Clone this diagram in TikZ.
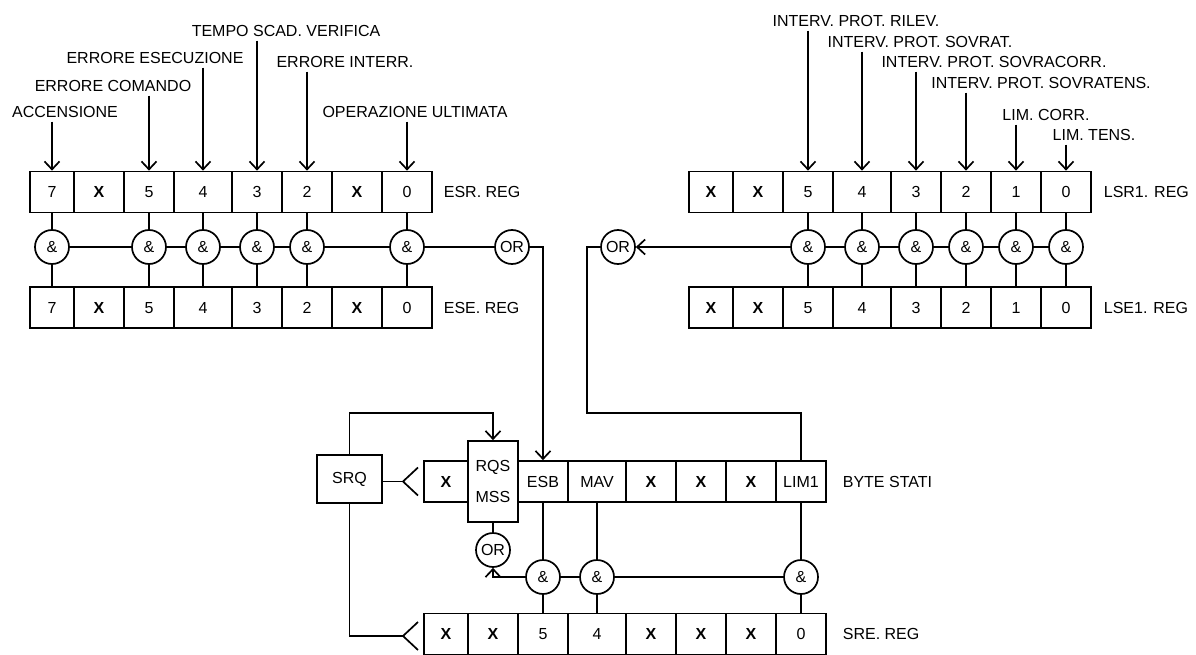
\documentclass[tikz,border=0pt]{standalone}
\usepackage{fontspec}
\setmainfont{Liberation Sans}
\usetikzlibrary{arrows.meta}

\begin{document}
\begin{tikzpicture}[x=1pt, y=-1pt, line width=1.7pt,
        font=\fontsize{16}{18}\selectfont,
        cell/.style={draw, minimum height=41pt, inner sep=0pt, text height=11.5pt, text depth=0pt},
        gate/.style={circle, draw, fill=white, minimum size=34pt, inner sep=0pt, text height=11.5pt, text depth=0pt},
        lab/.style={inner sep=3pt, text height=11.5pt, text depth=0pt},
        reg/.style={lab, anchor=west},
        arr/.style={-{Straight Barb[length=8pt,width=15pt]}}]
        \useasboundingbox (0,0) rectangle (1196,655);

        % ESR / ESE registers
        \foreach \b/\x/\w/\t in {7/0/44/7, 6/44/50/\textbf{X}, 5/94/50/5, 4/144/58/4, 3/202/50/3, 2/252/50/2, 1/302/50/\textbf{X}, 0/352/50/0} {
            \node[cell, minimum width=\w] (esr\b) at ({30+\x+\w/2},192) {\t};
            \node[cell, minimum width=\w] (ese\b) at ({30+\x+\w/2},307.5) {\t};
        }
        \node[reg] (nesr) at (440,192) {ESR. REG};
        \node[reg] (nese) at (440,307.5) {ESE. REG};

        % LSR1 / LSE1 registers
        \foreach \b/\x/\w/\t in {7/0/44/\textbf{X}, 6/44/50/\textbf{X}, 5/94/50/5, 4/144/58/4, 3/202/50/3, 2/252/50/2, 1/302/50/1, 0/352/50/0} {
            \node[cell, minimum width=\w] (lsr\b) at ({689+\x+\w/2},192) {\t};
            \node[cell, minimum width=\w] (lse\b) at ({689+\x+\w/2},307.5) {\t};
        }
        \node[reg] (nlsr) at (1100,192) {LSR1. REG};
        \node[reg] (nlse) at (1100,307.5) {LSE1. REG};

        % Status byte and SRE register
        \foreach \b/\x/\w/\t in {7/0/44/\textbf{X}, 5/94/50/ESB, 4/144/58/MAV, 3/202/50/\textbf{X}, 2/252/50/\textbf{X}, 1/302/50/\textbf{X}, 0/352/50/LIM1}
            \node[cell, minimum width=\w] (sb\b) at ({424+\x+\w/2},481.5) {\t};
        \node[draw, minimum width=50pt, minimum height=81pt, inner sep=0pt, align=center,
            font=\fontsize{16}{31}\selectfont] (rqs) at (493,481.5) {RQS\\MSS};
        \foreach \b/\x/\w/\t in {7/0/44/\textbf{X}, 6/44/50/\textbf{X}, 5/94/50/5, 4/144/58/4, 3/202/50/\textbf{X}, 2/252/50/\textbf{X}, 1/302/50/\textbf{X}, 0/352/50/0}
            \node[cell, minimum width=\w] (sre\b) at ({424+\x+\w/2},634) {\t};
        \node[reg] (nsb) at (839,481.5) {BYTE STATI};
        \node[reg] (nsre) at (839,634) {SRE. REG};
        \node[draw, minimum width=65pt, minimum height=48pt, inner sep=0pt] (srq) at (349.5,479) {SRQ};

        % Event labels
        \node[lab] (l7) at (65,112) {ACCENSIONE};
        \node[lab] (l5) at (113,86) {ERRORE COMANDO};
        \node[lab] (l4) at (155,58) {ERRORE ESECUZIONE};
        \node[lab] (l3) at (286,31) {TEMPO SCAD. VERIFICA};
        \node[lab] (l2) at (345,62) {ERRORE INTERR.};
        \node[lab] (l0) at (415,112) {OPERAZIONE ULTIMATA};
        \foreach \b in {7,5,4,3,2,0}
            \draw[arr] (esr\b |- l\b.south) -- (esr\b);

        \node[lab] (m5) at (856,21) {INTERV. PROT. RILEV.};
        \node[lab] (m4) at (920,42) {INTERV. PROT. SOVRAT.};
        \node[lab] (m3) at (994,62) {INTERV. PROT. SOVRACORR.};
        \node[lab] (m2) at (1041,83) {INTERV. PROT. SOVRATENS.};
        \node[lab] (m1) at (1046,115) {LIM. CORR.};
        \node[lab] (m0) at (1094,135) {LIM. TENS.};
        \foreach \b in {5,...,0}
            \draw[arr] (lsr\b |- m\b.south) -- (lsr\b);

        % Gates
        \foreach \b in {7,5,4,3,2,0} {
            \node[gate] (ga\b) at (esr\b |- 0,247) {\&};
            \draw (esr\b) -- (ga\b) -- (ese\b);
        }
        \foreach \b in {5,...,0} {
            \node[gate] (gb\b) at (lsr\b |- 0,247) {\&};
            \draw (lsr\b) -- (gb\b) -- (lse\b);
        }
        \foreach \b in {5,4,0} {
            \node[gate] (gc\b) at (sb\b |- 0,577) {\&};
            \draw (sb\b) -- (gc\b) -- (sre\b);
        }
        \node[gate] (or1) at (512,247) {OR};
        \node[gate] (or2) at (618,247) {OR};
        \node[gate] (or3) at (rqs |- 0,550) {OR};

        % Links
        \draw (ga7) -- (ga5) -- (ga4) -- (ga3) -- (ga2) -- (ga0) -- (or1);
        \draw[arr] (or1) -| (sb5);
        \draw (gb0) -- (gb1) -- (gb2) -- (gb3) -- (gb4) -- (gb5);
        \draw[arr] (gb5) -- (or2);
        \coordinate (k1) at (587,413);
        \draw (sb0) |- (k1) |- (or2);
        \draw (gc0) -- (gc4) -- (gc5);
        \draw[arr] (gc5) -| (or3);
        \draw (rqs) -- (or3);
        \coordinate (k2) at (rqs |- 0,413);
        \draw[arr] (srq) |- (k2) -- (rqs);

        % SRQ outputs
        \coordinate (v1) at (403,481.5);
        \coordinate (v2) at (403,636);
        \draw (v1 -| srq.east) -- (v1);
        \draw ([shift={(15,-14)}]v1) -- (v1) -- ([shift={(15,14)}]v1);
        \draw (srq) |- (v2);
        \draw ([shift={(15,-14)}]v2) -- (v2) -- ([shift={(15,14)}]v2);
    \end{tikzpicture}
\end{document}
